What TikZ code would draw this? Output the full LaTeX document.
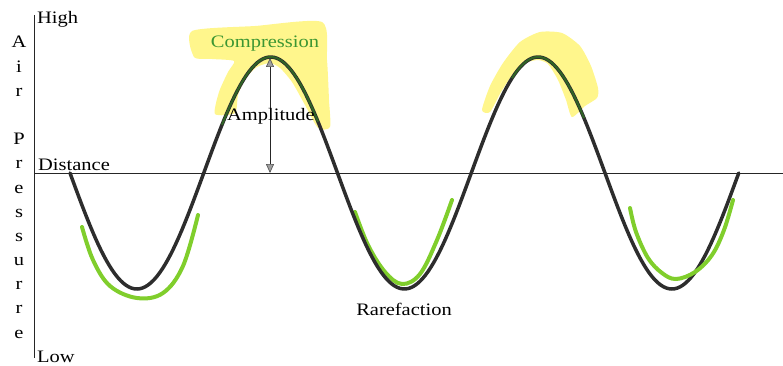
\documentclass[tikz,border=0pt]{standalone}
\usepackage{fontspec}
\setmainfont{Liberation Serif}[FakeStretch=1.17]
\usetikzlibrary{arrows.meta}
\definecolor{wavecol}{RGB}{45,45,45}
\definecolor{limecol}{RGB}{128,206,44}
\definecolor{hilite}{RGB}{255,246,140}
\definecolor{darkgr}{RGB}{48,100,38}
\definecolor{textgr}{RGB}{60,150,50}
\tikzset{
  declare function={wy(\x)=173+116*sin(1.345794*(\x-70));},
  lbl/.style={inner sep=0pt, font=\fontsize{17.5}{20}\selectfont},
  axisline/.style={line width=1pt, black!85},
  wavestroke/.style={line width=3.5pt, wavecol, line cap=round},
  limestroke/.style={line width=4pt, limecol, line cap=round},
  peakstroke/.style={line width=2pt, darkgr},
  blob/.style={fill=hilite, draw=none},
  tri/.tip={Triangle[length=9pt,width=8pt,fill=gray!75,color=black!70,line width=0.6pt]},
}
\begin{document}
\begin{tikzpicture}[x=1pt,y=-1pt]
\useasboundingbox (0,0) rectangle (783,366);
% highlights
\fill[blob] plot[smooth cycle, tension=0.4] coordinates {
 (192,31) (255,26) (322,22) (327,60) (329,100) (330,127) (318,128) (305,105)
 (292,82) (280,68) (270,63) (257,67) (246,78) (238,95) (235,113) (215,114)
 (219,92) (228,72) (234,61) (212,59) (194,57)};
\fill[blob] plot[smooth cycle, tension=0.4] coordinates {
 (482,110) (490,86) (503,63) (520,42) (540,32) (562,33) (580,46) (591,66)
 (598,88) (597,98) (585,106) (572,117) (566,100) (558,80) (548,64) (538,60)
 (526,63) (513,74) (501,92) (490,112)};
% axes
\coordinate (ytop) at (34,15);
\coordinate (ybot) at (34,358);
\coordinate (xleft) at (34,173);
\coordinate (xright) at (783,173);
\draw[axisline] (ytop) -- (ybot);
\draw[axisline] (xleft) -- (xright);
% green under-strokes
\draw[limestroke] plot[smooth, tension=0.6] coordinates {
 (82,227) (93,260) (110,286) (137,298) (163,293) (183,266) (198,215)};
\draw[limestroke] plot[smooth, tension=0.6] coordinates {
 (355,212) (368,245) (385,272) (402,284) (420,274) (437,240) (452,200)};
% wave
\draw[wavestroke] plot[domain=70:738.75, samples=240] (\x,{wy(\x)});
\draw[limestroke] plot[smooth, tension=0.6] coordinates {
 (630,208) (636,232) (648,258) (662,273) (676,279) (695,272) (712,255) (724,230) (733,200)};
% dark green on peaks
\draw[peakstroke] plot[domain=222:318, samples=60] (\x,{wy(\x)});
\draw[peakstroke] plot[domain=512:584, samples=50] (\x,{wy(\x)});
% amplitude arrow
\coordinate (peak) at (270,58);
\coordinate (base) at (270,173);
\draw[line width=0.8pt, black!85, tri-tri] (peak) -- (base);
% labels
\node[lbl, anchor=base west] (high) at (37,24) {High};
\node[lbl, anchor=base west] (low) at (37,362) {Low};
\node[lbl, anchor=base west] (dist) at (38,170) {Distance};
\node[lbl, anchor=base, text=textgr] (comp) at (265,48) {Compression};
\node[lbl, anchor=base] (ampl) at (271,121) {Amplitude};
\node[lbl, anchor=base] (rare) at (404,315) {Rarefaction};
\foreach \ch/\k in {A/0,i/1,r/2,P/4,r/5,e/6,s/7,s/8,u/9,r/10,r/11,e/12}
  \node[lbl, anchor=base] (v\k) at (19,{48+24.17*\k}) {\ch};
\end{tikzpicture}
\end{document}
